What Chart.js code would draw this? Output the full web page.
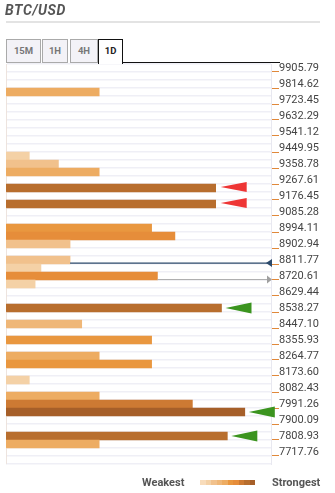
<!DOCTYPE html>
<html>
<head>
<meta charset="utf-8">
<script src="https://cdn.jsdelivr.net/npm/chart.js@4.4.0/dist/chart.umd.min.js"></script>
<style>
  body { margin: 0; background: #fff; font-family: Roboto, sans-serif; }
  #wrap { position: relative; width: 335px; height: 493px; overflow: hidden; }
  #chart { position: absolute; left: 0; top: 0; }
  .title { position: absolute; left: 5px; top: 2px; font: italic 700 14px Roboto; letter-spacing: 0.6px; color: #555; line-height: 16px; }
  .rule { position: absolute; left: 6px; top: 21px; width: 314px; height: 2px; background: #e3e3e3; }
  .tab { position: absolute; top: 39px; height: 24px; box-sizing: border-box; border: 1px solid #aaa; background: #f3f2f7;
         font: 700 9.5px Roboto; color: #777; text-align: center; line-height: 22px; }
  .tab.active { background: #fff; border-color: #111; border-bottom: none; color: #222; height: 25px; z-index: 2; }
  .tabline { position: absolute; left: 122px; top: 62px; width: 158px; height: 1px; background: #111; }
  .leg { position: absolute; top: 476px; font: 700 11px Roboto; color: #555; }
  #swatches { position: absolute; left: 200px; top: 480px; height: 5px; display: flex; }
  #swatches div { width: 5.5px; height: 5px; }
</style>
</head>
<body>
<div id="wrap">
  <canvas id="chart" width="335" height="493"></canvas>
  <div class="title">BTC/USD</div>
  <div class="rule"></div>
  <div class="tab" style="left:6px;width:35px">15M</div>
  <div class="tab" style="left:42px;width:26px">1H</div>
  <div class="tab" style="left:70px;width:28px">4H</div>
  <div class="tab active" style="left:98px;width:25px">1D</div>
  <div class="tabline"></div>
  <div class="leg" style="left:142px">Weakest</div>
  <div id="swatches"></div>
  <div class="leg" style="left:272px">Strongest</div>
</div>
<script>
// one value per row (top to bottom), 0 = no confluence at that level
const strength = [
  0, 0, 0, 16, 0, 0, 0, 0, 0, 0,
  0, 4, 9, 16, 0, 36, 0, 36, 0, 0,
  25, 29, 11, 0, 11, 6, 26, 5, 0, 0,
  37, 0, 13, 0, 25, 0, 16, 25, 0, 4,
  0, 16, 32, 41, 0, 0, 38, 16, 0, 0
];
const rows = strength.map((_, i) => i);

const tickValues = [
  9905.79, 9814.62, 9723.45, 9632.29, 9541.12, 9449.95, 9358.78, 9267.61, 9176.45,
  9085.28, 8994.11, 8902.94, 8811.77, 8720.61, 8629.44, 8538.27, 8447.10, 8355.93,
  8264.77, 8173.60, 8082.43, 7991.26, 7900.09, 7808.93, 7717.76
];

const resistanceRows = [15, 17];
const supportRows = [30, 43, 46];
const priceNow = 8817;
const pricePrev = 8723;

const palette = ['#f8dcbb', '#f4d1a6', '#f1c18c', '#efb778', '#edac62',
                 '#e9973f', '#e68d3a', '#cd7a33', '#b86e2e', '#a65f29'];
const maxStrength = 41;

function shade(s) {
  return palette[Math.min(9, Math.round(s / maxStrength * 9))];
}

// legend swatches
const sw = document.getElementById('swatches');
palette.forEach(c => {
  const d = document.createElement('div');
  d.style.background = c;
  sw.appendChild(d);
});

const step = (tickValues[0] - tickValues[tickValues.length - 1]) / (tickValues.length - 1);

// Triangles and price lines
const markers = {
  id: 'markers',
  afterDatasetsDraw(chart) {
    const { ctx, chartArea, scales: { x, y, y2 } } = chart;

    function tri(tipX, baseX, cy, half, color) {
      ctx.beginPath();
      ctx.moveTo(tipX, cy);
      ctx.lineTo(baseX, cy - half);
      ctx.lineTo(baseX, cy + half);
      ctx.closePath();
      ctx.fillStyle = color;
      ctx.fill();
    }

    ctx.save();
    resistanceRows.forEach(r => {
      const xe = x.getPixelForValue(strength[r]);
      tri(xe + 5, xe + 31, y.getPixelForValue(r) - 1, 5, '#ee3535');
    });
    supportRows.forEach(r => {
      const xe = x.getPixelForValue(strength[r]);
      tri(xe + 4, xe + 30, y.getPixelForValue(r), 5.5, '#3b941f');
    });

    // current price
    let py = y2.getPixelForValue(priceNow);
    let row = y.getValueForPixel(py);
    ctx.strokeStyle = '#2c4a6b';
    ctx.lineWidth = 1.2;
    ctx.beginPath();
    ctx.moveTo(x.getPixelForValue(strength[row]), py);
    ctx.lineTo(chartArea.right, py);
    ctx.stroke();
    tri(chartArea.right - 5, chartArea.right + 1, py, 4, '#2c4a6b');

    // previous price
    py = y2.getPixelForValue(pricePrev);
    row = y.getValueForPixel(py);
    ctx.strokeStyle = '#aaaaaa';
    ctx.lineWidth = 1;
    ctx.beginPath();
    ctx.moveTo(x.getPixelForValue(strength[row]), py);
    ctx.lineTo(chartArea.right, py);
    ctx.stroke();
    tri(chartArea.right + 1, chartArea.right - 4, py, 4, '#a0a0a0');
    ctx.restore();
  }
};

new Chart(document.getElementById('chart'), {
  type: 'bar',
  data: {
    labels: rows,
    datasets: [{
      data: strength,
      backgroundColor: strength.map(shade),
      borderWidth: 0,
      barPercentage: 1,
      categoryPercentage: 1
    }]
  },
  options: {
    indexAxis: 'y',
    responsive: false,
    animation: false,
    layout: { padding: { top: 64, bottom: 29, left: 0, right: 0 } },
    plugins: { legend: { display: false }, tooltip: { enabled: false } },
    scales: {
      x: { display: false, min: 0, max: 45.5 },
      y: {
        position: 'left',
        ticks: { display: false },
        grid: { color: '#efeff6', lineWidth: 1.5, drawTicks: false, offset: true },
        border: { display: true, color: '#e8e8f0' },
        afterFit(s) { s.width = 6; }
      },
      y2: {
        type: 'linear',
        position: 'right',
        offset: false,
        min: tickValues[tickValues.length - 1] - step / 2,
        max: tickValues[0] + step / 2,
        afterBuildTicks(s) { s.ticks = tickValues.map(v => ({ value: v })); },
        ticks: {
          autoSkip: false,
          callback: v => v.toFixed(2),
          color: '#444',
          font: { family: 'Roboto', size: 11 },
          padding: 0,
          labelOffset: -4
        },
        grid: { drawOnChartArea: false, offset: false, tickLength: 8, color: '#e0883a' },
        border: { display: true, color: '#e8e8f0' },
        afterFit(s) { s.width = 64; }
      }
    }
  },
  plugins: [markers]
});
</script>
</body>
</html>
